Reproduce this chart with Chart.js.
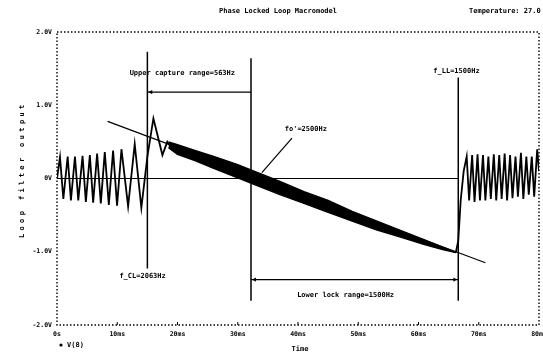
<!DOCTYPE html>
<html>
<head>
<meta charset="utf-8">
<script src="https://cdn.jsdelivr.net/npm/chart.js@4.4.1/dist/chart.umd.min.js"></script>
<style>
  html, body { margin: 0; padding: 0; background: #fff; }
  #wrap { width: 543px; height: 353px; }
</style>
</head>
<body>
<div id="wrap"><canvas id="grafica" width="543" height="353"></canvas></div>
<script>
//--|datos_leidos_de_la_grafica|--//
const xTickLabels = ['0s', '10ms', '20ms', '30ms', '40ms', '50ms', '60ms', '70ms', '80ms'];
const yTickLabels = ['-2.0V', '-1.0V', '0V', '1.0V', '2.0V'];

// V(8) before lock (ms / V)
const timeLeft = [0, 0.5, 1.05, 1.77, 2.31, 2.98, 3.53, 4.24, 4.79, 5.45, 6.0, 6.66, 7.27, 7.93, 8.6, 9.31, 9.97, 10.7, 11.8, 12.9, 14.0, 15.0, 16.0, 17.5, 18.3, 18.6];
const voltLeft = [0, 0.29, -0.28, 0.30, -0.30, 0.30, -0.30, 0.31, -0.32, 0.32, -0.33, 0.34, -0.34, 0.36, -0.36, 0.38, -0.37, 0.40, -0.38, 0.47, -0.40, 0.30, 0.82, 0.32, 0.50, 0.46];

// V(8) locked: ripple band envelope
const bandTime = [18.5, 20, 23, 26, 30, 33, 37, 41, 45, 49, 53, 57, 61, 64, 66.2];
const bandUpper = [0.50, 0.46, 0.38, 0.30, 0.19, 0.09, -0.04, -0.18, -0.30, -0.45, -0.58, -0.71, -0.84, -0.94, -1.01];
const bandLower = [0.42, 0.33, 0.24, 0.14, 0.01, -0.09, -0.22, -0.34, -0.46, -0.58, -0.70, -0.80, -0.90, -0.97, -1.01];

// V(8) after losing lock
const timeRight = [66.2, 66.6, 67.0, 67.5, 68.0, 68.4, 68.9, 69.3, 69.8, 70.2, 70.7, 71.1, 71.6, 72.0, 72.5, 72.9, 73.4, 73.8, 74.3, 74.7, 75.2, 75.6, 76.1, 76.5, 77.0, 77.4, 77.9, 78.3, 78.8, 79.2, 79.7, 80];
const voltRight = [-1.01, -0.85, -0.30, 0.10, 0.30, -0.30, 0.32, -0.32, 0.33, -0.30, 0.32, -0.30, 0.30, -0.28, 0.33, -0.30, 0.32, -0.28, 0.34, -0.30, 0.32, -0.27, 0.30, -0.25, 0.35, -0.28, 0.30, -0.22, 0.30, -0.25, 0.40, 0.10];

// lineas de construccion
const slopeTime = [8.4, 71.1];
const slopeVolt = [0.78, -1.15];
const zeroTime = [0, 66.6];
const zeroVolt = [0, 0];
const markerTimes = [15.0, 32.2, 66.6];
const markerTop = [1.73, 1.64, 1.38];
const markerBottom = [-1.23, -1.67, -1.67];
const captureTime = [15.0, 32.2];
const captureVolt = [1.18, 1.18];
const lockTime = [32.2, 66.6];
const lockVolt = [-1.38, -1.38];
const pointerTime = [34.0, 39.0];
const pointerVolt = [0.08, 0.55];

//--|armado_de_series|--//
const pts = (xs, ys) => xs.map((x, i) => ({ x: x, y: ys[i] }));
const negro = '#000';

function linea(data, width, extra) {
    return Object.assign({
        data: data,
        showLine: true,
        borderColor: negro,
        backgroundColor: negro,
        borderWidth: width,
        pointRadius: 0,
        tension: 0,
        fill: false
    }, extra || {});
}

const datasets = [
    linea(pts(timeLeft, voltLeft), 1.8),
    linea(pts(bandTime, bandUpper), 1.5),
    linea(pts(bandTime, bandLower), 1.5, { fill: '-1' }),
    linea(pts(timeRight, voltRight), 1.8),
    linea(pts(slopeTime, slopeVolt), 1.2),
    linea(pts(zeroTime, zeroVolt), 1.2),
    linea(pts(pointerTime, pointerVolt), 1.2),
    linea(pts(captureTime, captureVolt), 1.2),
    linea(pts(lockTime, lockVolt), 1.2),
    // puntas de flecha
    linea([{ x: captureTime[0] + 0.6, y: captureVolt[0] }], 0, { showLine: false, pointRadius: 2.5, pointStyle: 'triangle', rotation: 270 }),
    linea([{ x: lockTime[0] + 0.6, y: lockVolt[0] }], 0, { showLine: false, pointRadius: 2.5, pointStyle: 'triangle', rotation: 270 }),
    linea([{ x: lockTime[1] - 0.6, y: lockVolt[1] }], 0, { showLine: false, pointRadius: 2.5, pointStyle: 'triangle', rotation: 90 })
];
markerTimes.forEach((t, i) => {
    datasets.push(linea([{ x: t, y: markerTop[i] }, { x: t, y: markerBottom[i] }], 1.5));
});

//--|textos_y_marco|--//
const fuente = "bold 7px 'DejaVu Sans Mono'";
const etiquetas = [
    { texto: 'Upper capture range=563Hz', x: 20.8, y: 1.44 },
    { texto: "fo'=2500Hz", x: 41.3, y: 0.68 },
    { texto: 'f_CL=2063Hz', x: 14.2, y: -1.34 },
    { texto: 'Lower lock range=1500Hz', x: 47.9, y: -1.59 },
    { texto: 'f_LL=1500Hz', x: 66.3, y: 1.46 }
];

const textosPlugin = {
    id: 'textos',
    afterDraw(chart) {
        const ctx = chart.ctx;
        const a = chart.chartArea;
        const sx = chart.scales.x;
        const sy = chart.scales.y;
        ctx.save();
        ctx.fillStyle = negro;
        ctx.strokeStyle = negro;
        // marco punteado
        ctx.setLineDash([1.5, 2]);
        ctx.lineWidth = 1.4;
        ctx.strokeRect(a.left, a.top, a.right - a.left, a.bottom - a.top);
        ctx.setLineDash([]);
        ctx.lineWidth = 1;
        // marcas de escala
        for (let t = 10; t < 80; t += 10) {
            const px = sx.getPixelForValue(t);
            ctx.beginPath(); ctx.moveTo(px, a.bottom); ctx.lineTo(px, a.bottom - 3); ctx.stroke();
        }
        // textos
        ctx.font = fuente;
        ctx.textAlign = 'center';
        ctx.textBaseline = 'middle';
        etiquetas.forEach(e => {
            ctx.fillText(e.texto, sx.getPixelForValue(e.x), sy.getPixelForValue(e.y));
        });
        ctx.fillText('Phase Locked Loop Macromodel', 278, 11);
        ctx.textAlign = 'left';
        ctx.fillText('Temperature: 27.0', 469, 11);
        ctx.textAlign = 'center';
        ctx.fillText('Time', 300, 349);
        ctx.textAlign = 'left';
        ctx.beginPath(); ctx.arc(61, 345, 1.6, 0, Math.PI * 2); ctx.fill();
        ctx.fillText('V(8)', 67, 345);
        // titulo del eje y, letras espaciadas
        const tituloY = 'Loop filter output';
        ctx.translate(22, 0);
        ctx.rotate(-Math.PI / 2);
        ctx.textAlign = 'center';
        for (let i = 0; i < tituloY.length; i++) {
            ctx.fillText(tituloY[i], -(236 - i * 7.6), 0);
        }
        ctx.restore();
    }
};

document.addEventListener("DOMContentLoaded", () => {
    const canvas = document.getElementById('grafica');
    const ctx = canvas.getContext('2d');
    new Chart(ctx, {
        type: 'scatter',
        data: { datasets: datasets },
        options: {
            responsive: false,
            animation: false,
            layout: { padding: { top: 32, right: 2, left: 0, bottom: 0 } },
            plugins: {
                legend: { display: false },
                tooltip: { enabled: false }
            },
            scales: {
                x: {
                    type: 'linear',
                    min: 0,
                    max: 80,
                    grid: { display: false, drawTicks: false, tickLength: 0 },
                    border: { display: false },
                    ticks: {
                        stepSize: 10,
                        color: negro,
                        padding: 5,
                        maxRotation: 0,
                        autoSkip: false,
                        font: { family: 'DejaVu Sans Mono', size: 6.5, weight: 'bold' },
                        callback: (v) => xTickLabels[Math.round(v / 10)]
                    },
                    afterFit: (s) => { s.height = 28; s.paddingLeft = 0; s.paddingRight = 0; }
                },
                y: {
                    min: -2,
                    max: 2,
                    grid: { display: false, drawTicks: false, tickLength: 0 },
                    border: { display: false },
                    ticks: {
                        stepSize: 1,
                        color: negro,
                        padding: 5,
                        font: { family: 'DejaVu Sans Mono', size: 6.5, weight: 'bold' },
                        callback: (v) => yTickLabels[Math.round(v + 2)]
                    },
                    afterFit: (s) => { s.width = 57; s.paddingTop = 0; s.paddingBottom = 0; }
                }
            }
        },
        plugins: [textosPlugin]
    });
});
</script>
</body>
</html>
